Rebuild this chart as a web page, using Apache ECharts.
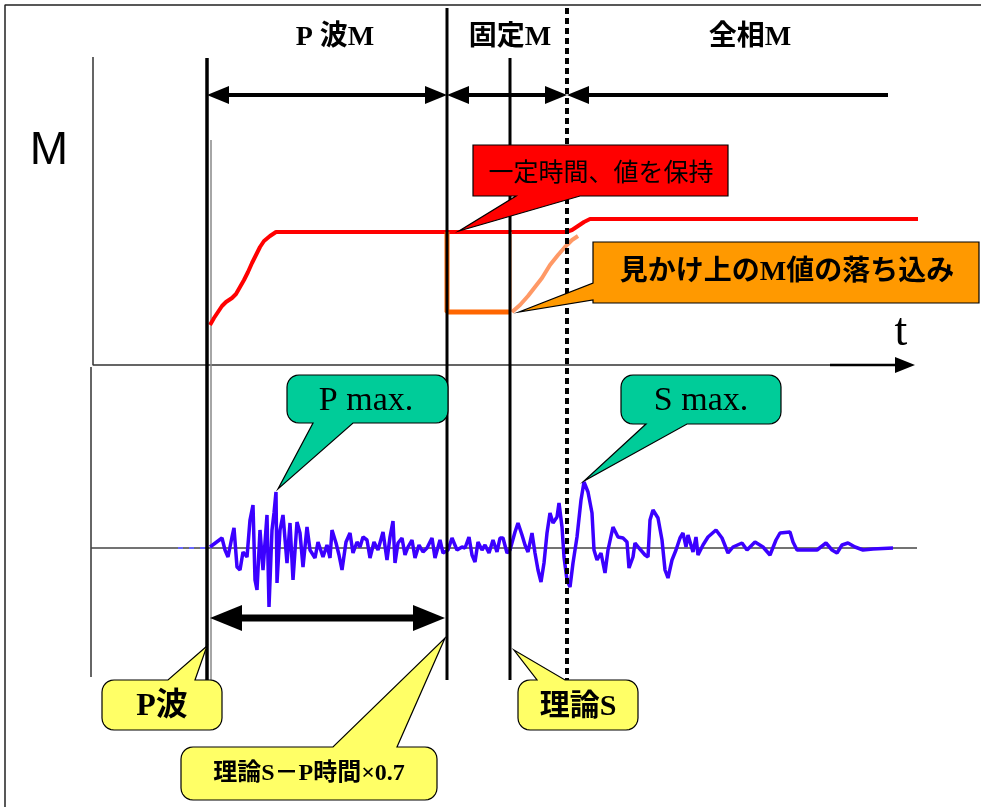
<!DOCTYPE html>
<html>
<head>
<meta charset="utf-8">
<script src="https://cdn.jsdelivr.net/npm/echarts@6/dist/echarts.min.js"></script>
<style>
  html, body { margin: 0; padding: 0; background: #fff; }
  #chart { width: 981px; height: 807px; }
</style>
</head>
<body>
<div id="chart"></div>
<script>
// 座標はすべて図の単位(横=時間, 縦=下向き)で持つ
var pOnset = 207;      // P波
var fixStart = 447;    // 理論S-P時間×0.7
var sTheory = 510;     // 理論S
var fullStart = 567;   // 全相M開始
var phaseEnd = 888;

// M値 (赤)
var mT = [210, 214, 218, 222, 226, 232, 236, 240, 244, 248, 252, 256, 260, 264, 270, 276, 447, 510, 566, 572, 578, 584, 590, 918];
var mY = [325, 318, 312, 306, 302, 298, 294, 287, 280, 272, 263, 255, 247, 241, 236, 232, 232, 232, 232, 230, 226, 222, 219, 219];

// 見かけ上のM値 (オレンジ)
var dropT = [447, 447, 510];
var dropY = [232, 312, 312];
var riseT = [512, 520, 528, 535, 542, 550, 558, 565, 572, 578];
var riseY = [312, 305, 296, 287, 278, 265, 255, 247, 240, 236];

// 地震波形 (青)
var waveT = [210, 222, 225, 228, 232, 234, 237, 240, 243, 247, 250, 253, 255, 257, 260, 263, 267, 269, 272, 274,
  276, 277, 280, 283, 287, 290, 293, 297, 300, 303, 307, 310, 315, 318, 320, 323, 327, 330, 332, 336,
  339, 342, 346, 350, 353, 357, 360, 363, 367, 370, 374, 378, 383, 387, 390, 393, 395, 398, 402, 405,
  408, 412, 415, 419, 423, 427, 432, 435, 440, 443, 448, 452, 457, 462, 465, 469, 472, 475, 478, 482,
  485, 489, 493, 497, 500, 503, 507, 510, 515, 518, 522, 525, 528, 532, 535, 538, 541, 544, 547, 550,
  553, 557, 559, 562, 564, 567, 570, 573, 577, 581, 584, 588, 592, 594, 597, 601, 605, 608, 613, 618,
  623, 627, 629, 633, 635, 639, 645, 648, 650, 653, 658, 662, 665, 668, 672, 676, 680, 683, 686, 688,
  693, 696, 698, 703, 708, 716, 722, 728, 733, 742, 747, 755, 763, 770, 776, 780, 790, 793, 797, 817,
  826, 832, 837, 842, 848, 855, 863, 873, 893];
var waveY = [547, 538, 550, 557, 537, 528, 567, 570, 552, 557, 520, 505, 580, 590, 530, 570, 515, 607, 530, 513,
  492, 583, 530, 515, 563, 523, 580, 522, 533, 567, 527, 550, 558, 542, 540, 557, 545, 558, 530, 543,
  555, 570, 542, 533, 553, 542, 547, 537, 540, 558, 542, 550, 532, 560, 537, 521, 563, 543, 538, 555,
  547, 540, 558, 545, 552, 548, 538, 558, 540, 553, 550, 538, 550, 547, 548, 537, 555, 562, 542, 550,
  545, 553, 540, 552, 538, 538, 553, 550, 532, 523, 535, 545, 552, 533, 553, 570, 582, 563, 533, 513,
  523, 517, 503, 527, 557, 580, 587, 563, 537, 500, 482, 492, 513, 550, 560, 553, 573, 550, 527, 537,
  538, 542, 568, 557, 543, 548, 555, 557, 520, 510, 518, 540, 570, 578, 560, 550, 538, 533, 547, 535,
  552, 537, 555, 545, 537, 530, 538, 553, 547, 543, 550, 542, 547, 555, 540, 533, 532, 542, 550, 550,
  543, 550, 553, 545, 543, 547, 550, 549, 548];

function pairs(xs, ys) { return xs.map(function (x, i) { return [x, ys[i]]; }); }

function seg(data, color, width, type, z) {
  return {
    type: 'line', data: data, symbol: 'none', silent: true, z: z || 2,
    lineStyle: { color: color, width: width, type: type || 'solid', cap: 'butt' }
  };
}

function arrowSeries(data, width, headLen, headHalf) {
  return {
    type: 'custom', data: data, silent: true, z: 4,
    renderItem: function (params, api) {
      var a = api.coord([api.value(0), api.value(1)]);
      var b = api.coord([api.value(2), api.value(3)]);
      var hs = api.value(4), he = api.value(5);
      var dx = b[0] - a[0], dy = b[1] - a[1], len = Math.hypot(dx, dy);
      var ux = dx / len, uy = dy / len, nx = -uy, ny = ux;
      var s = [a[0] + ux * headLen * hs * 0.8, a[1] + uy * headLen * hs * 0.8];
      var e = [b[0] - ux * headLen * he * 0.8, b[1] - uy * headLen * he * 0.8];
      var ch = [{ type: 'line', shape: { x1: s[0], y1: s[1], x2: e[0], y2: e[1] }, style: { stroke: '#000', lineWidth: width } }];
      if (hs) ch.push({ type: 'polygon', shape: { points: [a,
        [a[0] + ux * headLen + nx * headHalf, a[1] + uy * headLen + ny * headHalf],
        [a[0] + ux * headLen - nx * headHalf, a[1] + uy * headLen - ny * headHalf]] }, style: { fill: '#000' } });
      if (he) ch.push({ type: 'polygon', shape: { points: [b,
        [b[0] - ux * headLen + nx * headHalf, b[1] - uy * headLen + ny * headHalf],
        [b[0] - ux * headLen - nx * headHalf, b[1] - uy * headLen - ny * headHalf]] }, style: { fill: '#000' } });
      return { type: 'group', children: ch };
    }
  };
}

// 吹き出しの外形
function callout(x0, y0, x1, y1, r, side, b1, b2, tip) {
  var pts = [];
  function arc(cx, cy, a0, a1) {
    for (var k = 0; k <= 6; k++) {
      var t = (a0 + (a1 - a0) * k / 6) * Math.PI / 180;
      pts.push([cx + r * Math.cos(t), cy + r * Math.sin(t)]);
    }
  }
  arc(x0 + r, y0 + r, 180, 270);
  if (side === 'top') pts.push([b1, y0], tip, [b2, y0]);
  arc(x1 - r, y0 + r, 270, 360);
  arc(x1 - r, y1 - r, 0, 90);
  if (side === 'bottom') pts.push([b2, y1], tip, [b1, y1]);
  arc(x0 + r, y1 - r, 90, 180);
  if (side === 'left') pts.push([x0, b2], tip, [x0, b1]);
  return pts;
}

function bubble(pts, fill) {
  return { type: 'polygon', z: 50, silent: true, shape: { points: pts }, style: { fill: fill, stroke: '#000', lineWidth: 1.2 } };
}

function label(x, y, text, size, family, weight) {
  return {
    type: 'text', x: x, y: y, z: 60, silent: true,
    style: { text: text, fill: '#000', fontSize: size, fontFamily: family, fontWeight: weight || 'normal', align: 'center', verticalAlign: 'middle' }
  };
}

var SERIF_JP = "'Liberation Serif', 'Noto Sans CJK JP'";
var GOTHIC = "'Noto Sans CJK JP'";

var option = {
  animation: false,
  backgroundColor: '#fff',
  grid: { left: 0, right: 0, top: 0, bottom: 0 },
  xAxis: { type: 'value', min: 0, max: 981, show: false },
  yAxis: { type: 'value', min: 0, max: 807, inverse: true, show: false },
  graphic: {
    elements: [
      bubble(callout(473, 145, 728, 196, 0, 'bottom', 516, 580, [459, 231]), '#FF0000'),
      bubble(callout(593, 242, 979, 303, 0, 'left', 283, 300, [519, 312]), '#FF9900'),
      bubble(callout(287, 375, 448, 423, 12, 'bottom', 313, 353, [278, 489]), '#00CC99'),
      bubble(callout(621, 375, 781, 424, 12, 'bottom', 646, 687, [584, 481]), '#00CC99'),
      bubble(callout(102, 680, 222, 730, 12, 'top', 168, 195, [207, 646]), '#FFFF66'),
      bubble(callout(518, 680, 638, 730, 12, 'top', 537, 565, [514, 650]), '#FFFF66'),
      bubble(callout(181, 747, 437, 800, 12, 'top', 333, 397, [445, 638]), '#FFFF66'),

      label(335, 38, 'P 波M', 28, SERIF_JP, 'bold'),
      label(510, 38, '固定M', 28, SERIF_JP, 'bold'),
      label(750, 38, '全相M', 28, SERIF_JP, 'bold'),
      label(49, 151, 'M', 46, "'Liberation Sans'", 'normal'),
      label(901, 333, 't', 46, "'Liberation Serif'", 'normal'),
      label(601, 171, '一定時間、値を保持', 25, GOTHIC, 'normal'),
      label(787, 273, '見かけ上のM値の落ち込み', 28, SERIF_JP, 'bold'),
      label(366, 401, 'P max.', 34, "'Liberation Serif'", 'normal'),
      label(701, 401, 'S max.', 34, "'Liberation Serif'", 'normal'),
      label(162, 707, 'P波', 32, SERIF_JP, 'bold'),
      label(578, 707, '理論S', 30, SERIF_JP, 'bold'),
      label(309, 774, '理論S－P時間×0.7', 24, SERIF_JP, 'bold')
    ]
  },
  series: [
    // 枠
    seg([[5, 807], [5, 5], [981, 5]], '#222', 1.5),
    // 軸
    seg([[93, 57], [93, 365], [900, 365]], '#333', 1.5),
    seg([[91, 367], [91, 677]], '#333', 1.5),
    seg([[91, 548], [917, 548]], '#444', 1.5),
    seg([[211, 140], [211, 680]], '#888', 1.5),
    // M値
    seg(pairs(mT, mY), '#FF0000', 4),
    seg(pairs(dropT, dropY), '#FF6600', 5),
    seg([[511, 232], [511, 312]], '#FFB080', 1.5),
    seg(pairs(riseT, riseY), '#FF9966', 4),
    // 区切り線
    seg([[pOnset, 58], [pOnset, 682]], '#000', 3.5, 'solid', 3),
    seg([[fixStart, 8], [fixStart, 680]], '#000', 3, 'solid', 3),
    seg([[sTheory, 58], [sTheory, 680]], '#000', 3, 'solid', 3),
    seg([[fullStart, 8], [fullStart, 680]], '#000', 4, [6, 4], 3),
    // 波形
    seg([[178, 548], [206, 548]], '#6666FF', 2, [5, 6]),
    seg(pairs(waveT, waveY), '#3B00FF', 3.5),
    // 矢印
    arrowSeries([[pOnset, 95, fixStart, 95, 1, 1], [fixStart, 95, fullStart, 95, 1, 1], [fullStart, 95, phaseEnd, 95, 1, 0]], 4, 22, 9),
    arrowSeries([[pOnset + 3, 618, fixStart - 2, 618, 1, 1]], 7, 32, 13),
    arrowSeries([[830, 365, 915, 365, 0, 1]], 2.5, 20, 8)
  ]
};

var chart = echarts.init(document.getElementById('chart'));
chart.setOption(option);
</script>
</body>
</html>
